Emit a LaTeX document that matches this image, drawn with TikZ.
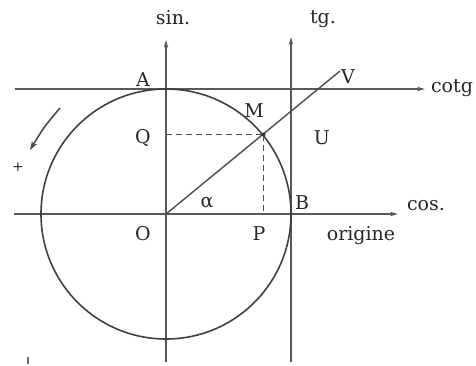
\documentclass[tikz,border=0pt]{standalone}
\usepackage{fontspec}
\setmainfont{DejaVu Serif}
\usetikzlibrary{arrows.meta}
\begin{document}
\begin{tikzpicture}[x=1pt,y=-1pt,
  axis/.style={draw=black!65,line width=1.4pt,-{Stealth[length=8pt,width=4.5pt]}},
  plain/.style={draw=black!70,line width=1.4pt},
  dashline/.style={draw=black!70,line width=1.3pt,dash pattern=on 6pt off 4pt},
  lab/.style={inner sep=0pt,text=black!85,font=\fontsize{19}{22}\selectfont}]
\useasboundingbox (0,0) rectangle (476,365);
% key points
\coordinate (O) at (166,214);
\coordinate (M) at (263.5,134.5);
\coordinate (Q) at (166,134.5);
\coordinate (P) at (263.5,214);
\coordinate (Vend) at (340,71);
% axes
\coordinate (sinB) at (166,362); \coordinate (sinT) at (166,40);
\coordinate (tgB) at (291,362);  \coordinate (tgT) at (291,37);
\coordinate (ctL) at (15,89);    \coordinate (ctR) at (425,89);
\coordinate (csL) at (14,214);   \coordinate (csR) at (398,214);
\draw[axis] (sinB) -- (sinT);
\draw[axis] (tgB) -- (tgT);
\draw[axis] (ctL) -- (ctR);
\draw[axis] (csL) -- (csR);
% circle
\draw[black!75,line width=1.6pt] (O) circle[radius=125];
% radius line and projections
\draw[plain] (O) -- (Vend);
\draw[dashline] (Q) -- (M);
\draw[dashline] (M) -- (P);
\fill[black!80] (M) circle[radius=2];
% direction arrow
\coordinate (arS) at (60,108); \coordinate (arE) at (30,150);
\draw[black!70,line width=1.6pt,-{Stealth[length=9pt,width=6pt]}] (arS) .. controls (44,127) .. (arE);
% artifact tick
\coordinate (tk1) at (28,357); \coordinate (tk2) at (28,364);
\draw[black!60,line width=1.4pt] (tk1) -- (tk2);
% labels
\node[lab] (lsin) at (173,18) {sin.};
\node[lab] (ltg) at (323,19) {tg.};
\node[lab] (lA) at (143,80) {A};
\node[lab] (lcotg) at (452,88) {cotg};
\node[lab] (lM) at (254,111) {M};
\node[lab] (lQ) at (143,138) {Q};
\node[lab] (lU) at (322,138) {U};
\node[lab] (lV) at (348,77) {V};
\node[lab] (lal) at (207,203) {α};
\node[lab] (lB) at (302,203) {B};
\node[lab] (lcos) at (426,206) {cos.};
\node[lab] (lO) at (143,234) {O};
\node[lab] (lP) at (259,234) {P};
\node[lab,anchor=base] (lorig) at (361,240) {origine};
\node[lab,font=\fontsize{14}{16}\selectfont] (lplus) at (18,167) {+};
\end{tikzpicture}
\end{document}
